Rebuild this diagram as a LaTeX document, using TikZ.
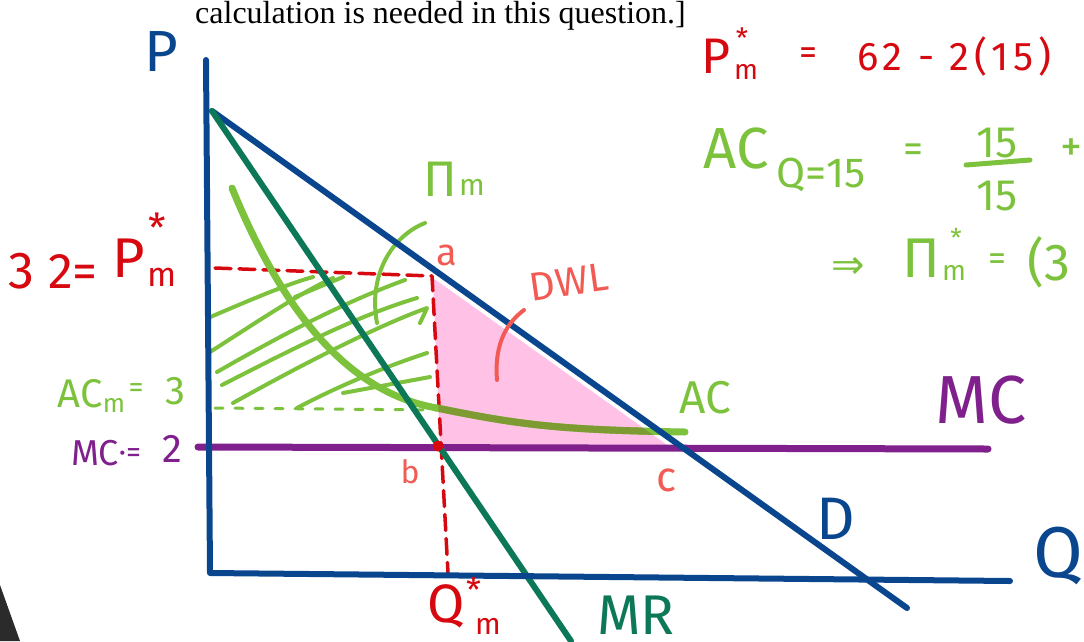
\documentclass[tikz,border=0pt]{standalone}
\usepackage{fontspec}
\setmainfont{Liberation Serif}
\newfontfamily\hand{Fira Sans}
\newfontfamily\symf{DejaVu Sans}
\definecolor{axblue}{RGB}{10,70,142}
\definecolor{mrgreen}{RGB}{12,120,88}
\definecolor{lgreen}{RGB}{125,194,60}
\definecolor{acolive}{RGB}{126,154,50}
\definecolor{dred}{RGB}{214,8,16}
\definecolor{salmon}{RGB}{242,90,84}
\definecolor{mcpurple}{RGB}{128,32,140}
\definecolor{dwlpink}{RGB}{255,193,230}
\definecolor{cornergray}{RGB}{43,43,43}
\newcommand\fsz[1]{\fontsize{#1}{#1}\selectfont}
\tikzset{
  lbl/.style={inner sep=0pt, font=\hand},
  axisline/.style={draw=axblue, line width=6pt},
  dline/.style={draw=axblue, line width=6pt},
  mrline/.style={draw=mrgreen, line width=6pt},
  mcline/.style={draw=mcpurple, line width=7pt},
  reddash/.style={draw=dred, line width=3.5pt, dash pattern=on 16pt off 8pt},
  greendot/.style={draw=lgreen, line width=3pt, dash pattern=on 8pt off 12pt},
  hatchline/.style={draw=lgreen, line width=4pt},
  accurve/.style={line width=7pt},
  pointer/.style={line width=4pt},
}
\begin{document}
\begin{tikzpicture}[x=1pt,y=-1pt,line cap=round,line join=round]
\useasboundingbox (0,0) rectangle (1084,641);
\fill[cornergray] (0,585) -- (20,641) -- (0,641) -- cycle;

% key coordinates
\coordinate (ytop) at (206,60);
\coordinate (O) at (210,573);
\coordinate (xend) at (1010,581);
\coordinate (Dtop) at (212,111);
\coordinate (Dend) at (907,608);
\coordinate (MRend) at (571,641);
\coordinate (MCl) at (198,447);
\coordinate (MCr) at (988,449);
\coordinate (pa) at (433,278);
\coordinate (pb) at (440,447);
\coordinate (pc) at (670,447);
\coordinate (b) at (438,446);
\coordinate (pmL) at (215,268);
\coordinate (pmC) at (432,276);
\coordinate (qm) at (448,573);
\coordinate (acL) at (215,408);
\coordinate (acR) at (437,410);

% DWL pink triangle
\fill[dwlpink] (pa) -- (pb) -- (pc) -- cycle;

% profit hatching
\draw[hatchline] (208,318) .. controls (250,300) and (290,283) .. (313,277) (295,297) -- (343,277);
\draw[hatchline] (210,352) .. controls (260,320) and (300,293) .. (333,278);
\draw[hatchline] (217,372) .. controls (290,330) and (350,300) .. (405,280);
\draw[hatchline] (222,385) .. controls (300,345) and (360,315) .. (417,298);
\draw[hatchline] (233,403) .. controls (310,360) and (380,325) .. (427,308) -- (420,323);
\draw[hatchline] (297,408) .. controls (340,385) and (390,365) .. (427,353);
\draw[hatchline] (343,393) -- (430,377);
\draw[hatchline] (377,323) .. controls (368,275) and (392,236) .. (425,223);

% AC_m dotted line
\draw[greendot] (acL) -- (acR);

% red dashed P_m and Q_m
\draw[reddash] (pmL) -- (pmC) -- (qm);

% AC curve
\path[save path=\acpath] (232,188) .. controls (290,330) and (360,395) .. (437,408) .. controls (520,425) and (560,430) .. (685,432);
\draw[accurve, draw=lgreen, use path=\acpath];
\begin{scope}
  \clip (pa) -- (pb) -- (pc) -- cycle;
  \draw[accurve, draw=acolive, use path=\acpath];
\end{scope}

% MC line
\draw[mcline] (MCl) -- (MCr);

% D and MR
\draw[dline] (Dtop) -- (Dend);
\draw[mrline] (Dtop) -- (MRend);

% axes
\draw[axisline] (ytop) -- (O) -- (xend);

% point b
\fill[dred] (b) circle (5.5pt);

% DWL pointer
\draw[pointer, draw=salmon] (497,380) .. controls (494,342) and (508,322) .. (524,310);

% header text
\node[anchor=base west, inner sep=0pt, font=\fsz{32}] (hdr) at (195,23) {calculation is needed in this question.]};

% axis labels
\node[lbl, text=axblue, font=\hand\fsz{58}] (lP) at (161,52) {P};
\node[lbl, text=axblue, font=\hand\fsz{72}] (lQ) at (1058,556) {Q};
\node[lbl, text=axblue, font=\hand\fsz{60}] (lD) at (836,519) {D};
\node[lbl, text=mcpurple, font=\hand\fsz{68}] (lMC) at (981,400) {MC};
\node[lbl, text=mrgreen, font=\hand\fsz{56}, anchor=base west] (lMR) at (597,634) {MR};
\node[lbl, text=lgreen, font=\hand\fsz{46}] (lAC) at (705,398) {AC};

% Q_m*
\node[lbl, text=dred, font=\hand\fsz{54}] (lQm) at (446,606) {Q};
\node[lbl, text=dred, font=\hand\fsz{34}] (lQms) at (474,590) {*};
\node[lbl, text=dred, font=\hand\fsz{30}] (lQmm) at (488,626) {m};

% point labels
\node[lbl, text=salmon, font=\hand\fsz{38}] (la) at (447,255) {a};
\node[lbl, text=salmon, font=\hand\fsz{32}] (lb) at (410,472) {b};
\node[lbl, text=salmon, font=\hand\fsz{42}] (lc) at (667,480) {c};
\node[lbl, text=salmon, font=\hand\fsz{40}, rotate=8] (lDWL) at (569,282) {DWL};

% Pi_m
\node[lbl, text=lgreen, font=\hand\fsz{50}] (lPi) at (440,179) {Π};
\node[lbl, text=lgreen, font=\hand\fsz{30}] (lPim) at (472,187) {m};

% left labels
\node[lbl, text=dred, font=\hand\fsz{52}] (l3) at (21,271) {3};
\node[lbl, text=dred, font=\hand\fsz{50}] (l2) at (73,272) {2=};
\node[lbl, text=dred, font=\hand\fsz{56}] (lPm) at (129,258) {P};
\node[lbl, text=dred, font=\hand\fsz{40}] (lPms) at (157,228) {*};
\node[lbl, text=dred, font=\hand\fsz{34}] (lPmm) at (162,277) {m};

\node[lbl, text=lgreen, font=\hand\fsz{40}] (lACm) at (80,394) {AC};
\node[lbl, text=lgreen, font=\hand\fsz{26}] (lACmm) at (114,405) {m};
\node[lbl, text=lgreen, font=\hand\fsz{30}] (lACeq) at (136,390) {=};
\node[lbl, text=lgreen, font=\hand\fsz{40}] (lAC3) at (175,391) {3};

\node[lbl, text=mcpurple, font=\hand\fsz{36}] (lMCl) at (95,453) {MC};
\node[lbl, text=mcpurple, font=\hand\fsz{30}] (lMCeq) at (130,455) {·=};
\node[lbl, text=mcpurple, font=\hand\fsz{40}] (lMC2) at (172,449) {2};

% top right: P_m* = 62 - 2(15)
\node[lbl, text=dred, font=\hand\fsz{50}] (rP) at (716,56) {P};
\node[lbl, text=dred, font=\hand\fsz{28}] (rPm) at (746,72) {m};
\node[lbl, text=dred, font=\hand\fsz{28}] (rPs) at (742,38) {*};
\node[lbl, text=dred, font=\hand\fsz{36}] (rEq) at (808,56) {=};
\node[lbl, text=dred, font=\hand\fsz{40}, anchor=west] (rVal) at (857,56) {\addfontfeature{LetterSpace=12}62 - 2(15)};

% AC_{Q=15} = 15/15 +
\node[lbl, text=lgreen, font=\hand\fsz{58}] (rAC) at (736,149) {AC};
\node[lbl, text=lgreen, font=\hand\fsz{42}] (rACs) at (821,175) {Q=15};
\node[lbl, text=lgreen, font=\hand\fsz{40}] (rEq2) at (913,153) {=};
\node[lbl, text=lgreen, font=\hand\fsz{44}] (rNum) at (997,143) {15};
\node[lbl, text=lgreen, font=\hand\fsz{44}] (rDen) at (997,196) {15};
\draw[draw=lgreen, line width=5pt] (966,165) -- (1030,160);
\node[lbl, text=lgreen, font=\hand\fsz{44}] (rPlus) at (1071,150) {+};

% => Pi_m* = (3
\node[lbl, text=lgreen, font=\symf\fsz{40}] (rImp) at (848,268) {⇒};
\node[lbl, text=lgreen, font=\hand\fsz{56}] (rPi) at (921,258) {Π};
\node[lbl, text=lgreen, font=\hand\fsz{28}] (rPim) at (954,273) {m};
\node[lbl, text=lgreen, font=\hand\fsz{26}] (rPis) at (956,238) {*};
\node[lbl, text=lgreen, font=\hand\fsz{36}] (rEq3) at (997,262) {=};
\node[lbl, text=lgreen, font=\hand\fsz{52}] (r3) at (1049,262) {(3};
\end{tikzpicture}
\end{document}
